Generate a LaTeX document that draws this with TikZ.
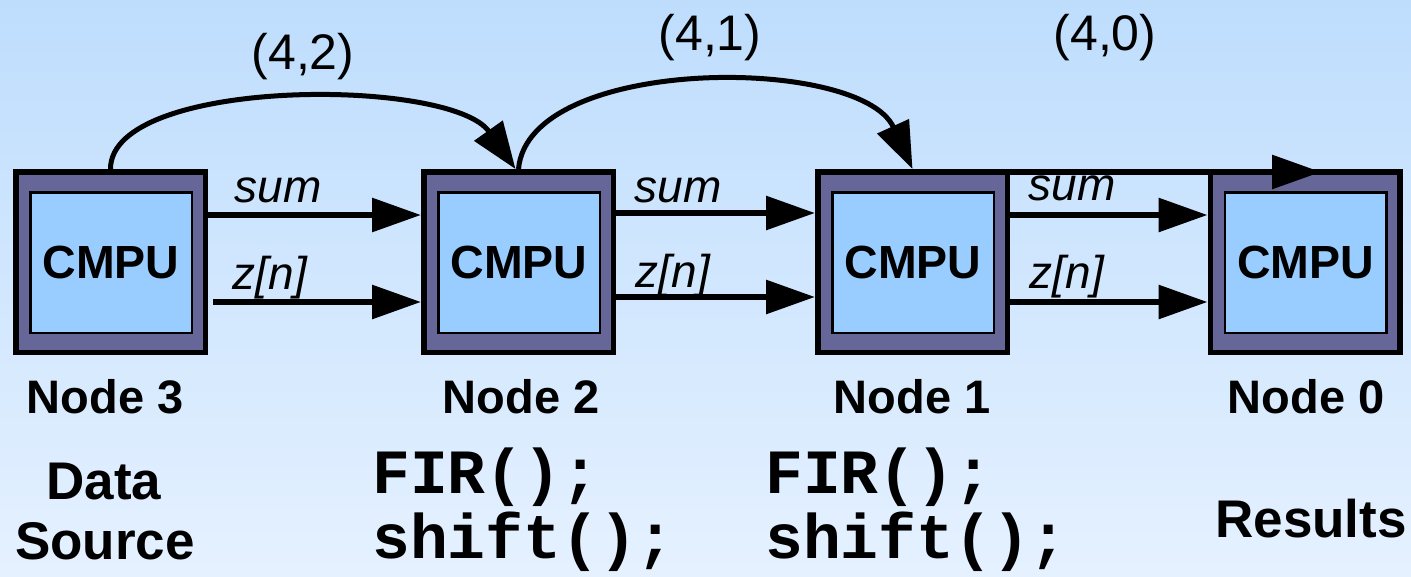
\documentclass[tikz,border=0pt]{standalone}
\usepackage{fontspec}
\setmainfont{Liberation Sans}
\newfontfamily\codefont{Liberation Mono}
\usetikzlibrary{arrows.meta}
\definecolor{bgtop}{RGB}{190,221,253}
\definecolor{bgbot}{RGB}{229,241,255}
\definecolor{outerfill}{RGB}{102,102,153}
\definecolor{innerfill}{RGB}{153,204,255}
\tikzset{
  cpubox/.style={draw=black, line width=5.5pt, fill=outerfill, minimum width=189.5pt, minimum height=180.5pt, inner sep=0pt},
  cpuinner/.style={draw=black, line width=2.5pt, fill=innerfill, minimum width=161.5pt, minimum height=140.5pt, inner sep=0pt, font=\fontsize{46.5}{50}\selectfont\bfseries},
  flow/.style={line width=6pt, -{Triangle[length=49pt,width=33pt]}},
  hop/.style={line width=5pt, -{Triangle[length=47pt,width=34pt]}},
  siglabel/.style={inner sep=0pt, font=\fontsize{46}{50}\selectfont\itshape},
  hoplabel/.style={inner sep=0pt, font=\fontsize{50}{55}\selectfont},
  namelabel/.style={inner sep=0pt, anchor=base, font=\fontsize{47}{55}\selectfont\bfseries},
  rolelabel/.style={inner sep=0pt, anchor=base, font=\fontsize{53}{60}\selectfont\bfseries},
  codeline/.style={inner sep=0pt, anchor=base west, font=\fontsize{63}{70}\selectfont\codefont\bfseries}
}
\begin{document}
\begin{tikzpicture}[x=1pt,y=-1pt]
\useasboundingbox (0,0) rectangle (1411,576);
\shade[top color=bgtop, bottom color=bgbot] (0,0) rectangle (1411,576);

% boxes
\node[cpubox] (n3) at (110.5,262) {};
\node[cpubox] (n2) at (518.5,262) {};
\node[cpubox] (n1) at (912.5,262) {};
\node[cpubox] (n0) at (1305,262) {};
\node[cpuinner] (c3) at (111,262.5) {CMPU};
\node[cpuinner] (c2) at (519,262.5) {CMPU};
\node[cpuinner] (c1) at (913,262.5) {CMPU};
\node[cpuinner] (c0) at (1305.5,262.5) {CMPU};

% horizontal signals
\draw[flow] ([yshift=47pt]n3.east) -- ([yshift=47pt]n2.west);
\draw[flow] ([xshift=5pt,yshift=-40pt]n3.east) -- ([yshift=-40pt]n2.west);
\draw[flow] ([yshift=49pt]n2.east) -- ([yshift=49pt]n1.west);
\draw[flow] ([yshift=-35pt]n2.east) -- ([yshift=-35pt]n1.west);
\draw[flow] ([yshift=47pt]n1.east) -- ([yshift=47pt]n0.west);
\draw[flow] ([yshift=-40pt]n1.east) -- ([yshift=-40pt]n0.west);

% signal labels
\node[siglabel] (s3) at (278,190) {sum};
\node[siglabel] (z3) at (270,278) {z[n]};
\node[siglabel] (s2) at (678,190) {sum};
\node[siglabel] (z2) at (673,276) {z[n]};
\node[siglabel] (s1) at (1072,188) {sum};
\node[siglabel] (z1) at (1067,277) {z[n]};

% hops
\draw[hop] (n3.north) .. controls +(0,-92) and +(-65,-92) .. ([xshift=-3pt]n2.north);
\draw[hop] (n2.north) .. controls +(10,-114) and +(-52,-114) .. (n1.north);
\draw[flow] ([xshift=4pt,yshift=-3pt]n1.north) -- ([xshift=16pt,yshift=-3pt]n0.north);

\node[hoplabel] (h2) at (303,57) {(4,2)};
\node[hoplabel] (h1) at (710,38) {(4,1)};
\node[hoplabel] (h0) at (1105,38) {(4,0)};

% node names
\node[namelabel] (l3) at (105,413) {Node 3};
\node[namelabel] (l2) at (521,413) {Node 2};
\node[namelabel] (l1) at (912,413) {Node 1};
\node[namelabel] (l0) at (1306,413) {Node 0};

% roles
\node[rolelabel] (d1) at (104,499) {Data};
\node[rolelabel] (d2) at (105,559) {Source};
\node[rolelabel] (r0) at (1311,537) {Results};

% code
\node[codeline] (f2) at (372,493) {FIR();};
\node[codeline] (sh2) at (372,558) {shift();};
\node[codeline] (f1) at (765,493) {FIR();};
\node[codeline] (sh1) at (765,558) {shift();};
\end{tikzpicture}
\end{document}
